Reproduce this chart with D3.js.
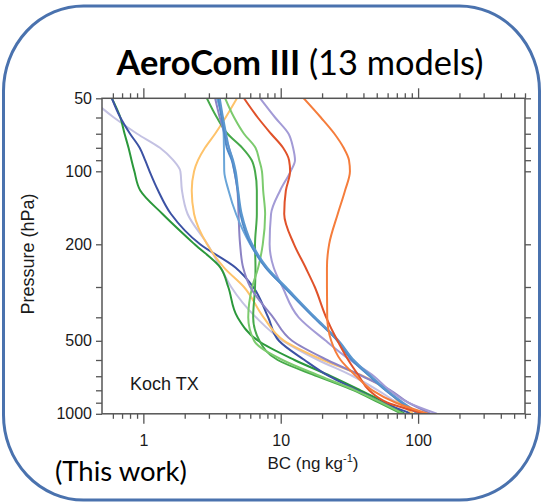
<!DOCTYPE html>
<html>
<head>
<meta charset="utf-8">
<script src="https://cdn.jsdelivr.net/npm/d3@7"></script>
<style>
  body { margin: 0; background: #fff; }
  svg text { font-family: "Liberation Sans", Arial, sans-serif; fill: #1a1a1a; }
</style>
</head>
<body>
<svg id="chart" width="543" height="504"></svg>
<script>
// pressure levels (hPa) at which each model profile was read
const pressureLevels = [50, 60, 70, 80, 90, 100, 120, 150, 200, 250, 300, 400, 500, 600, 700, 800, 900, 1000];

// BC mixing ratio (ng/kg), one array per model
const bcDarkBlue   = [0.59, 0.68, 0.80, 0.94, 1.03, 1.11, 1.28, 1.59, 2.59, 4.7, 6.3, 8.1, 9.7, 14.9, 22.5, 36, 55, 90];
const bcDarkGreen  = [0.59, 0.68, 0.73, 0.78, 0.82, 0.86, 0.95, 1.38, 2.36, 3.65, 4.15, 4.85, 6.85, 12.6, 23.2, 38, 58, 80];
const bcPaleLilac  = [0.41, 0.61, 0.9, 1.32, 1.65, 1.86, 1.91, 2.1, 2.93, 3.66, 4.36, 6.6, 10.4, 18.7, 33.6, 51, 71, 104];
const bcYellow     = [4.8, 3.97, 3.33, 2.81, 2.5, 2.34, 2.25, 2.34, 2.91, 3.88, 5.4, 7.5, 10.6, 20.3, 40, 60, 73, 92];
const bcGreen      = [2.9, 3.43, 4.1, 5.25, 6.15, 6.5, 6.7, 6.7, 6.5, 6.55, 6.5, 6.3, 7.0, 9.5, 18.5, 34, 52, 76];
const bcLightGreen = [3.94, 4.58, 5.4, 6.55, 6.98, 7.3, 7.45, 7.7, 7.4, 6.85, 6.2, 5.8, 6.4, 10.3, 19.5, 35, 54, 78];
const bcPurple     = [3.33, 3.6, 3.9, 4.2, 4.45, 4.6, 4.84, 4.93, 5.06, 5.33, 6.0, 8.8, 12.1, 21.8, 39.4, 63, 85, 124];
const bcSkyBlue    = [3.43, 3.74, 3.84, 3.86, 3.87, 3.88, 4.17, 4.73, 6.0, 7.8, 10.6, 17.4, 25.9, 33, 44.6, 58, 76, 100];
const bcMidBlue    = [3.52, 3.71, 3.9, 4.05, 4.4, 4.6, 4.86, 5.09, 6.05, 7.8, 10.6, 17.4, 25.9, 33, 44.6, 58, 76, 100];
const bcSteelBlue  = [3.6, 3.8, 4.0, 4.2, 4.5, 4.7, 4.9, 5.2, 6.2, 8.0, 10.9, 17.8, 26.5, 34, 45.5, 59, 78, 103];
const bcLavender   = [7.08, 9.1, 11.4, 12.3, 12.7, 11.8, 9.9, 8.5, 8.3, 8.9, 10.3, 13.5, 21.3, 32, 47.7, 62, 85, 137];
const bcRed        = [5.4, 6.8, 8.5, 10.4, 11.5, 11.7, 10.9, 10.6, 12.5, 15.2, 17.7, 21.4, 25.9, 31, 37.2, 44, 60, 113];
const bcOrange     = [14.7, 19.6, 24.6, 28.7, 31.4, 31.9, 29.4, 26, 22.5, 21.7, 21.7, 21.8, 23.3, 27.3, 35.5, 46.5, 69, 118];

const modelSeries = [bcPaleLilac, bcDarkGreen, bcDarkBlue, bcYellow, bcGreen, bcLightGreen, bcPurple,
                     bcLavender, bcSkyBlue, bcMidBlue, bcSteelBlue, bcRed, bcOrange];
const seriesColors = ["#c4c2e3", "#2b983b", "#3c52a4", "#fec36b", "#46a94a", "#7ccb6e", "#8c83c4",
                      "#a39bd6", "#6aa5d8", "#4f88c8", "#5b97cf", "#e0522a", "#f57d3c"];

const xTickLabels = [1, 10, 100];
const xMinorTicks = [0.6, 0.7, 0.8, 0.9, 2, 3, 4, 5, 6, 7, 8, 9, 20, 30, 40, 50, 60, 70, 80, 90, 200, 300, 400, 500, 600];
const yTickLabels = [50, 100, 200, 500, 1000];
const yMinorTicks = [60, 70, 80, 90, 300, 400, 600, 700, 800, 900];

var svg = d3.select("#chart");
var plot = {left: 102, right: 525, top: 98.3, bottom: 413.8};

// rounded frame round the whole panel
svg.append("rect")
    .attr("x", 3.5).attr("y", 6)
    .attr("width", 536).attr("height", 494)
    .attr("rx", 80).attr("ry", 85)
    .attr("fill", "none")
    .attr("stroke", "#4a72ae")
    .attr("stroke-width", 3);

var xScale = d3.scaleLog().domain([0.5, 600]).range([plot.left, plot.right]);
var yScale = d3.scaleLog().domain([50, 1000]).range([plot.top, plot.bottom]);

svg.append("clipPath").attr("id", "plotClip")
  .append("rect")
    .attr("x", plot.left).attr("y", plot.top)
    .attr("width", plot.right - plot.left).attr("height", plot.bottom - plot.top);

// profiles
var line = d3.line()
    .x(function(d) { return xScale(d.bc); })
    .y(function(d) { return yScale(d.p); })
    .curve(d3.curveMonotoneY);

var profiles = svg.append("g").attr("clip-path", "url(#plotClip)");
modelSeries.forEach(function(values, i) {
    var pts = values.map(function(v, j) { return {bc: v, p: pressureLevels[j]}; });
    profiles.append("path")
        .datum(pts)
        .attr("d", line)
        .attr("fill", "none")
        .attr("stroke", seriesColors[i])
        .attr("stroke-width", 2)
        .attr("stroke-linejoin", "round");
});

// axes
function styleAxis(g) {
    g.select(".domain").remove();
    g.selectAll(".tick line").attr("stroke", "#555").attr("stroke-width", 1.3);
    g.selectAll(".tick text").attr("font-size", 16).attr("fill", "#1a1a1a")
        .attr("font-family", '"Liberation Sans", Arial, sans-serif');
}

svg.append("g").attr("transform", `translate(0,${plot.bottom})`)
    .call(d3.axisBottom(xScale).tickValues(xTickLabels).tickSize(10).tickPadding(11)
        .tickFormat(d3.format("d")))
    .call(styleAxis);
svg.append("g").attr("transform", `translate(0,${plot.bottom})`)
    .call(d3.axisBottom(xScale).tickValues(xMinorTicks).tickSize(5).tickFormat(""))
    .call(styleAxis);
svg.append("g").attr("transform", `translate(0,${plot.top})`)
    .call(d3.axisTop(xScale).tickValues(xTickLabels).tickSize(10).tickFormat(""))
    .call(styleAxis);
svg.append("g").attr("transform", `translate(0,${plot.top})`)
    .call(d3.axisTop(xScale).tickValues(xMinorTicks).tickSize(5).tickFormat(""))
    .call(styleAxis);

var yAllTicks = yTickLabels.concat(yMinorTicks);
svg.append("g").attr("transform", `translate(${plot.left},0)`)
    .call(d3.axisLeft(yScale).tickValues(yAllTicks).tickSize(6).tickPadding(4)
        .tickFormat(function(d) { return yTickLabels.indexOf(d) >= 0 ? d : ""; }))
    .call(styleAxis);
svg.append("g").attr("transform", `translate(${plot.right},0)`)
    .call(d3.axisRight(yScale).tickValues(yAllTicks).tickSize(6).tickFormat(""))
    .call(styleAxis);

svg.append("rect")
    .attr("x", plot.left).attr("y", plot.top)
    .attr("width", plot.right - plot.left).attr("height", plot.bottom - plot.top)
    .attr("fill", "none").attr("stroke", "#555").attr("stroke-width", 1.5);

// axis titles
var xTitle = svg.append("text")
    .attr("x", 313).attr("y", 469)
    .attr("text-anchor", "middle")
    .attr("font-size", 17);
xTitle.append("tspan").text("BC (ng kg");
xTitle.append("tspan").attr("font-size", 11).attr("dy", -7).text("-1");
xTitle.append("tspan").attr("dy", 7).text(")");

svg.append("text")
    .attr("transform", "translate(34,254) rotate(-90)")
    .attr("text-anchor", "middle")
    .attr("font-size", 18)
    .text("Pressure (hPa)");

svg.append("text")
    .attr("x", 130).attr("y", 390)
    .attr("font-size", 18)
    .text("Koch TX");

// title and footnote
var title = svg.append("text")
    .attr("x", 300).attr("y", 74.5)
    .attr("text-anchor", "middle")
    .style("font-family", "Lato, 'Open Sans', sans-serif")
    .style("fill", "#000")
    .attr("font-size", 36);
title.append("tspan").attr("font-weight", "bold").text("AeroCom III");
title.append("tspan").text(" (13 models)");
var tw = title.node().getComputedTextLength();
title.attr("font-size", 36 * 367 / tw);

var note = svg.append("text")
    .attr("x", 55).attr("y", 481)
    .style("font-family", "Lato, 'Open Sans', sans-serif")
    .style("fill", "#000")
    .attr("font-size", 28)
    .text("(This work)");
var nw = note.node().getComputedTextLength();
note.attr("font-size", 28 * 132 / nw);
</script>
</body>
</html>
